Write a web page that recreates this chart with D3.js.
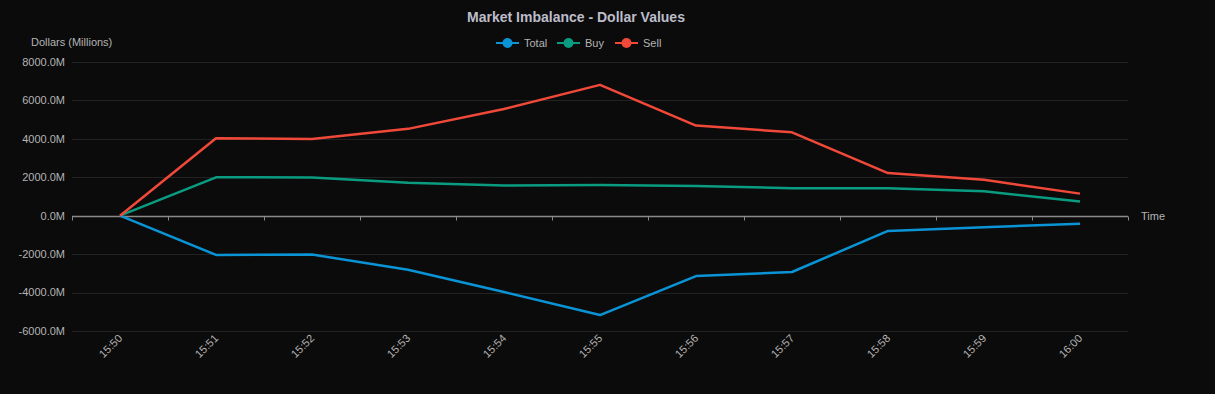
<!DOCTYPE html>
<html lang="en">
<head>
<meta charset="UTF-8">
<title>Market Imbalance - Dollar Values</title>
<script src="https://d3js.org/d3.v7.min.js"></script>
<style>
    html, body { margin: 0; padding: 0; background: #0b0b0b; }
    svg { display: block; font-family: "Liberation Sans", Arial, sans-serif; }
    .grid line { stroke: #222; stroke-width: 1px; }
    .tick-label { fill: #b4b4b4; font-size: 11px; }
    .series { fill: none; stroke-width: 2.5px; stroke-linejoin: round; }
</style>
</head>
<body>
<svg width="1215" height="394"></svg>
<script>
    // data
    const times = ["15:50", "15:51", "15:52", "15:53", "15:54", "15:55", "15:56", "15:57", "15:58", "15:59", "16:00"];
    const totalVals = [0, -2040, -2020, -2810, -3970, -5170, -3140, -2930, -790, -600, -420];
    const buyVals = [0, 2000, 1990, 1710, 1570, 1600, 1540, 1430, 1430, 1270, 740];
    const sellVals = [0, 4030, 3990, 4520, 5550, 6810, 4690, 4340, 2220, 1870, 1150];
    const yTicks = [-6000, -4000, -2000, 0, 2000, 4000, 6000, 8000];

    const seriesList = [
        { name: "Total", color: "#0a94d6", values: totalVals },
        { name: "Buy", color: "#0a9c80", values: buyVals },
        { name: "Sell", color: "#f0493a", values: sellVals }
    ];

    const svg = d3.select("svg");
    const plotLeft = 72, plotRight = 1128, plotTop = 62, plotBottom = 331;

    const x = d3.scaleBand().domain(times).range([plotLeft, plotRight]);
    const y = d3.scaleLinear().domain([-6000, 8000]).range([plotBottom, plotTop]);

    // grid lines
    svg.append("g").attr("class", "grid")
        .selectAll("line")
        .data(yTicks.filter(d => d !== 0))
        .enter().append("line")
        .attr("x1", plotLeft).attr("x2", plotRight)
        .attr("y1", d => Math.round(y(d)) + 0.5)
        .attr("y2", d => Math.round(y(d)) + 0.5);

    // y labels
    svg.append("g").selectAll("text")
        .data(yTicks)
        .enter().append("text")
        .attr("class", "tick-label")
        .attr("x", 65)
        .attr("y", d => y(d))
        .attr("dy", "0.35em")
        .attr("text-anchor", "end")
        .text(d => d.toFixed(1) + "M");

    svg.append("text")
        .attr("class", "tick-label")
        .attr("x", 31).attr("y", 46)
        .text("Dollars (Millions)");

    // x axis line at zero
    const zeroY = Math.round(y(0)) + 0.5;
    const xAxis = svg.append("g");
    xAxis.append("line")
        .attr("x1", plotLeft).attr("x2", plotRight)
        .attr("y1", zeroY).attr("y2", zeroY)
        .attr("stroke", "#8a8a8a").attr("stroke-width", 1.5);

    const bounds = times.map(t => x(t)).concat([plotRight]);
    xAxis.selectAll(".tk")
        .data(bounds)
        .enter().append("line")
        .attr("class", "tk")
        .attr("x1", d => Math.round(d) + 0.5).attr("x2", d => Math.round(d) + 0.5)
        .attr("y1", zeroY).attr("y2", zeroY + 4)
        .attr("stroke", "#8a8a8a");

    svg.append("g").selectAll("text")
        .data(times)
        .enter().append("text")
        .attr("class", "tick-label")
        .attr("text-anchor", "end")
        .attr("transform", d => "translate(" + (x(d) + x.bandwidth() / 2 + 3) + "," + (plotBottom + 8) + ") rotate(-45)")
        .text(d => d);

    svg.append("text")
        .attr("class", "tick-label")
        .attr("x", 1141).attr("y", zeroY)
        .attr("dy", "0.35em")
        .text("Time");

    // series lines
    const line = d3.line()
        .x((d, i) => x(times[i]) + x.bandwidth() / 2)
        .y(d => y(d));

    svg.append("g").selectAll("path")
        .data(seriesList)
        .enter().append("path")
        .attr("class", "series")
        .attr("stroke", d => d.color)
        .attr("d", d => line(d.values));

    // title
    svg.append("text")
        .attr("x", 576).attr("y", 22)
        .attr("text-anchor", "middle")
        .attr("fill", "#bdbdca")
        .style("font-size", "14px")
        .style("font-weight", "bold")
        .text("Market Imbalance - Dollar Values");

    // legend
    const legendX = [496, 557, 615];
    const legend = svg.append("g").selectAll("g")
        .data(seriesList)
        .enter().append("g")
        .attr("transform", (d, i) => "translate(" + legendX[i] + ",43)");
    legend.append("line")
        .attr("x1", 0).attr("x2", 23)
        .attr("stroke", d => d.color).attr("stroke-width", 2);
    legend.append("circle")
        .attr("cx", 11.5).attr("r", 5)
        .attr("fill", d => d.color);
    legend.append("text")
        .attr("class", "tick-label")
        .attr("x", 28).attr("dy", "0.35em")
        .text(d => d.name);
</script>
</body>
</html>
